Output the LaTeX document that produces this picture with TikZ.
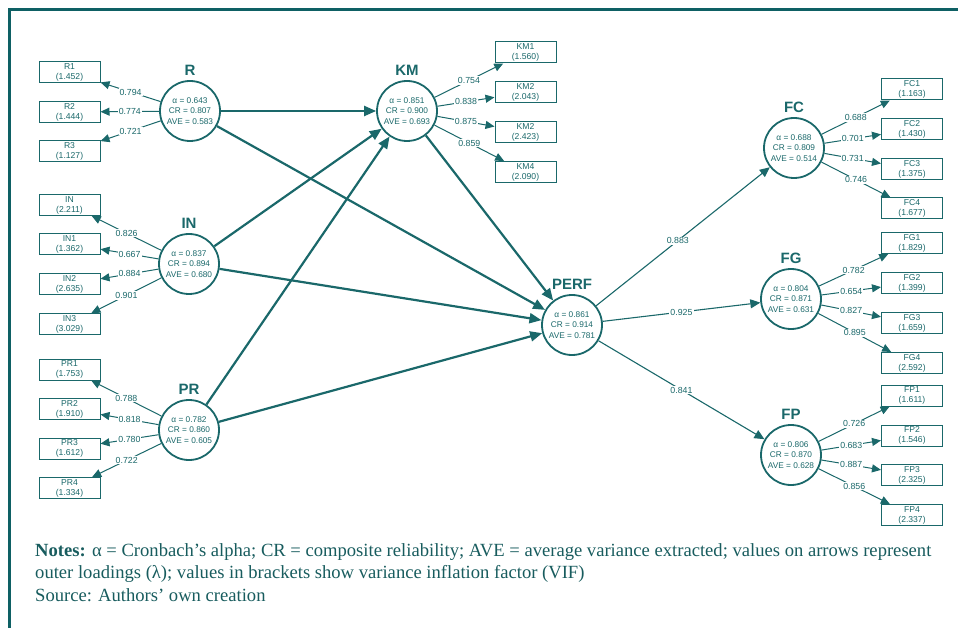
\documentclass[tikz,border=0pt]{standalone}
\usepackage{fontspec}
\setmainfont{Liberation Serif}
\setsansfont{Liberation Sans}
\usetikzlibrary{arrows.meta,calc}
\definecolor{pls}{RGB}{26,104,106}
\definecolor{framecol}{RGB}{14,96,100}
\definecolor{notecol}{RGB}{24,92,94}

\begin{document}
\begin{tikzpicture}[x=1pt,y=-1pt,
  lv/.style={circle, draw=pls, line width=1.8pt, minimum size=60pt, inner sep=0pt,
    font=\sffamily\fontsize{8.3}{10.5}\selectfont, text=pls, align=center},
  ind/.style={rectangle, draw=pls, line width=1pt, minimum width=61pt, minimum height=21pt,
    inner sep=0pt, font=\sffamily\fontsize{8.6}{10}\selectfont, text=pls, align=center},
  lvname/.style={font=\sffamily\bfseries\fontsize{15}{15}\selectfont, text=pls, inner sep=0pt,
    anchor=south, yshift=4pt},
  load/.style={draw=pls, line width=1pt, -{Triangle[length=9pt,width=8pt]}},
  struct/.style={draw=pls, line width=2.2pt, -{Triangle[length=12pt,width=10pt]}},
  outarrow/.style={draw=pls, line width=1.1pt, -{Triangle[length=10pt,width=9pt]}},
  wt/.style={fill=white, inner sep=1pt, font=\sffamily\fontsize{8.8}{10}\selectfont, text=pls},
]
\useasboundingbox (0,0) rectangle (958,628);

% frame lines along top and left
\draw[framecol, line width=3pt] (9,628) -- (9,10) -- (958,10);

% latent variables
\node[lv] (R)    at (190,111) {α = 0.643\\CR = 0.807\\AVE = 0.583};
\node[lv] (IN)   at (189,264) {α = 0.837\\CR = 0.894\\AVE = 0.680};
\node[lv] (PR)   at (189,430) {α = 0.782\\CR = 0.860\\AVE = 0.605};
\node[lv] (KM)   at (407,111) {α = 0.851\\CR = 0.900\\AVE = 0.693};
\node[lv] (PERF) at (572,325) {α = 0.861\\CR = 0.914\\AVE = 0.781};
\node[lv] (FC)   at (794,148) {α = 0.688\\CR = 0.809\\AVE = 0.514};
\node[lv] (FG)   at (791,299) {α = 0.804\\CR = 0.871\\AVE = 0.631};
\node[lv] (FP)   at (791,455) {α = 0.806\\CR = 0.870\\AVE = 0.628};

\foreach \v/\t in {R/R, IN/IN, PR/PR, KM/KM, PERF/PERF, FC/FC, FG/FG, FP/FP}
  \node[lvname] (\v-name) at (\v.north) {\t};

% indicators
\node[ind] (R1) at (69.5,72.5) {R1\\(1.452)};
\node[ind] (R2) at (69.5,112)  {R2\\(1.444)};
\node[ind] (R3) at (69.5,151.5){R3\\(1.127)};

\node[ind] (IN0) at (69.5,205) {IN\\(2.211)};
\node[ind] (IN1) at (69.5,244) {IN1\\(1.362)};
\node[ind] (IN2) at (69.5,284) {IN2\\(2.635)};
\node[ind] (IN3) at (69.5,324) {IN3\\(3.029)};

\node[ind] (PR1) at (69.5,369.5) {PR1\\(1.753)};
\node[ind] (PR2) at (69.5,409)   {PR2\\(1.910)};
\node[ind] (PR3) at (69.5,448.5) {PR3\\(1.612)};
\node[ind] (PR4) at (69.5,488)   {PR4\\(1.334)};

\node[ind] (KM1) at (525.5,52.5) {KM1\\(1.560)};
\node[ind] (KM2) at (525.5,92.5) {KM2\\(2.043)};
\node[ind] (KM3) at (525.5,132)  {KM2\\(2.423)};
\node[ind] (KM4) at (525.5,172)  {KM4\\(2.090)};

\node[ind] (FC1) at (912,89.5)  {FC1\\(1.163)};
\node[ind] (FC2) at (912,129.5) {FC2\\(1.430)};
\node[ind] (FC3) at (912,169)   {FC3\\(1.375)};
\node[ind] (FC4) at (912,208.5) {FC4\\(1.677)};

\node[ind] (FG1) at (912,243) {FG1\\(1.829)};
\node[ind] (FG2) at (912,283) {FG2\\(1.399)};
\node[ind] (FG3) at (912,323) {FG3\\(1.659)};
\node[ind] (FG4) at (912,363) {FG4\\(2.592)};

\node[ind] (FP1) at (912,395.5) {FP1\\(1.611)};
\node[ind] (FP2) at (912,435.5) {FP2\\(1.546)};
\node[ind] (FP3) at (912,475)   {FP3\\(2.325)};
\node[ind] (FP4) at (912,515)   {FP4\\(2.337)};

% outer loadings
\foreach \a/\b/\w in {R/R1/0.794, R/R2/0.774, R/R3/0.721,
    IN/IN0/0.826, IN/IN1/0.667, IN/IN2/0.884, IN/IN3/0.901,
    PR/PR1/0.788, PR/PR2/0.818, PR/PR3/0.780, PR/PR4/0.722,
    KM/KM1/0.754, KM/KM2/0.838, KM/KM3/0.875, KM/KM4/0.859,
    FC/FC1/0.688, FC/FC2/0.701, FC/FC3/0.731, FC/FC4/0.746,
    FG/FG1/0.782, FG/FG2/0.654, FG/FG3/0.827, FG/FG4/0.895,
    FP/FP1/0.726, FP/FP2/0.683, FP/FP3/0.887, FP/FP4/0.856}
  \draw[load] (\a) -- node[wt]{\w} (\b);

% structural paths
\draw[struct] (R)  -- (KM);
\draw[struct] (R)  -- (PERF);
\draw[struct] (IN) -- (KM);
\draw[struct] (IN) -- (PERF);
\draw[struct] (PR) -- (KM);
\draw[struct] (PR) -- (PERF);
\draw[struct] (KM) -- (PERF);

% second-order loadings
\draw[outarrow] (PERF) -- node[wt, pos=0.47]{0.883} (FC);
\draw[outarrow] (PERF) -- node[wt, pos=0.5]{0.925} (FG);
\draw[outarrow] (PERF) -- node[wt, pos=0.5]{0.841} (FP);

% notes
\node[anchor=north west, inner sep=0pt, align=left, text=notecol,
  font=\fontsize{18.6}{22.5}\selectfont] (notes) at (35,543)
  {\textbf{Notes:} α = Cronbach’s alpha; CR = composite reliability; AVE = average variance extracted; values on arrows represent\\
   outer loadings (λ); values in brackets show variance inflation factor (VIF)\\
   Source: Authors’ own creation};
\end{tikzpicture}
\end{document}
